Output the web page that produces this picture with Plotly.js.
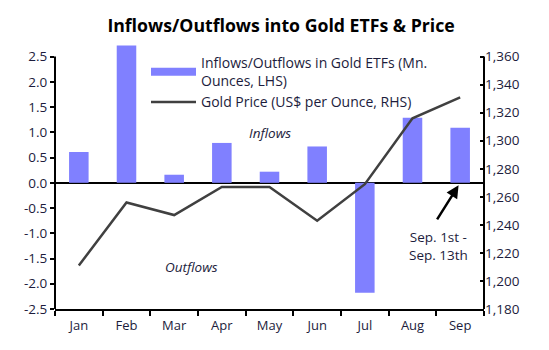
<!DOCTYPE html>
<html>
<head>
<meta charset="utf-8">
<script src="https://cdn.plot.ly/plotly-3.0.1.min.js"></script>
<style>body{margin:0;padding:0;background:#fff}#chart{width:549px;height:350px}</style>
</head>
<body>
<div id="chart"></div>
<script>
const months = ["Jan","Feb","Mar","Apr","May","Jun","Jul","Aug","Sep"];
const etfFlows = [0.61, 2.72, 0.16, 0.79, 0.22, 0.72, -2.18, 1.29, 1.09];
const goldPrice = [1211, 1256, 1247, 1267, 1267, 1243, 1269, 1316, 1331];
const leftTicks = [-2.5,-2.0,-1.5,-1.0,-0.5,0.0,0.5,1.0,1.5,2.0,2.5];
const rightTicks = [1180,1200,1220,1240,1260,1280,1300,1320,1340,1360];
const barName = "Inflows/Outflows in Gold ETFs (Mn.<br>Ounces, LHS)";
const lineName = "Gold Price (US$ per Ounce, RHS)";

const txt = "#1c1c3c";
const fontFam = "'Open Sans', Lato, sans-serif";

// left axis drawn range -2.5..2.5, extra headroom so the Feb bar can rise above the frame
const yMin = -2.5, yMax = 2.5, yHead = 2.75;
const y2Min = 1180, y2Max = 1360;
const y2Head = y2Min + (yHead - yMin) / (yMax - yMin) * (y2Max - y2Min);

const PH = 265, PB = 309; // plot height / bottom in px (for paper positions of labels)
const py = v => (PB - v) / PH;
const px = v => (v - 55) / 429;

const data = [
  {type:"bar", x:months, y:etfFlows, name:barName, showlegend:false,
   marker:{color:"#8080FF"}, yaxis:"y"},
  {type:"scatter", mode:"lines", x:[null], y:[null], name:barName, showlegend:true,
   line:{color:"#8080FF", width:8}, yaxis:"y", hoverinfo:"skip"},
  {type:"scatter", mode:"lines", x:months, y:goldPrice, name:lineName,
   line:{color:"#404040", width:2.5}, yaxis:"y2"}
];

const layout = {
  width:549, height:350,
  margin:{l:55, r:65, t:44, b:41},
  paper_bgcolor:"#fff", plot_bgcolor:"#fff",
  font:{family:fontFam, size:12, color:txt},
  title:{text:"<b>Inflows/Outflows into Gold ETFs & Price</b>", x:0.512, xanchor:"center", y:0.927, yanchor:"middle",
         font:{family:fontFam, size:17.7, color:"#000"}},
  bargap:0.59,
  showlegend:true,
  legend:{x:px(146), y:py(47), xanchor:"left", yanchor:"top", bgcolor:"rgba(0,0,0,0)",
          font:{family:fontFam, size:14, color:txt}, tracegroupgap:0, itemwidth:45},
  xaxis:{type:"category", showline:true, linecolor:"#000", linewidth:2, ticks:"outside", tickson:"boundaries",
         ticklen:5, tickwidth:2, tickcolor:"#000", showgrid:false, fixedrange:true, ticklabelstandoff:3,
         tickfont:{family:fontFam, size:13, color:txt}},
  yaxis:{range:[yMin, yHead], tickvals:leftTicks, ticktext:leftTicks.map(v=>v.toFixed(1)), showline:false,
         ticks:"outside", ticklen:4, tickwidth:2, tickcolor:"#000", showgrid:false, zeroline:true, zerolinecolor:"#000", zerolinewidth:2.5,
         tickfont:{family:fontFam, size:13.5, color:txt}},
  yaxis2:{range:[y2Min, y2Head], tickvals:rightTicks, ticktext:rightTicks.map(v=>v.toLocaleString("en-US")), overlaying:"y", side:"right",
          showline:false, ticks:"inside", ticklen:4, tickwidth:2, tickcolor:"#000",
          showgrid:false, zeroline:false, tickfont:{family:fontFam, size:13.5, color:txt}},
  shapes:[
    {type:"line", xref:"paper", yref:"y", x0:0, x1:0, y0:yMin, y1:yMax, line:{color:"#000", width:2}, layer:"above"},
    {type:"line", xref:"paper", yref:"y", x0:1, x1:1, y0:yMin, y1:yMax, line:{color:"#000", width:2}, layer:"above"}
  ],
  annotations:[
    {xref:"paper", yref:"paper", x:px(270), y:py(133), xanchor:"center", yanchor:"middle", text:"<i>Inflows</i>", showarrow:false,
     font:{family:fontFam, size:13.5, color:txt}},
    {xref:"paper", yref:"paper", x:px(191), y:py(267), xanchor:"center", yanchor:"middle", text:"<i>Outflows</i>", showarrow:false,
     font:{family:fontFam, size:13.5, color:txt}},
    {xref:"x", yref:"y", x:"Sep", y:0, ax:-24, ay:38, axref:"pixel", ayref:"pixel",
     text:"", showarrow:true, arrowhead:2, arrowsize:1, arrowwidth:2.5, arrowcolor:"#000", standoff:3},
    {xref:"paper", yref:"paper", x:px(438), y:py(246), xanchor:"center", yanchor:"middle", text:"Sep. 1st -<br>Sep. 13th", showarrow:false,
     align:"center", font:{family:fontFam, size:13.5, color:txt}}
  ]
};

Plotly.newPlot("chart", data, layout, {displayModeBar:false, staticPlot:true});
</script>
</body>
</html>
